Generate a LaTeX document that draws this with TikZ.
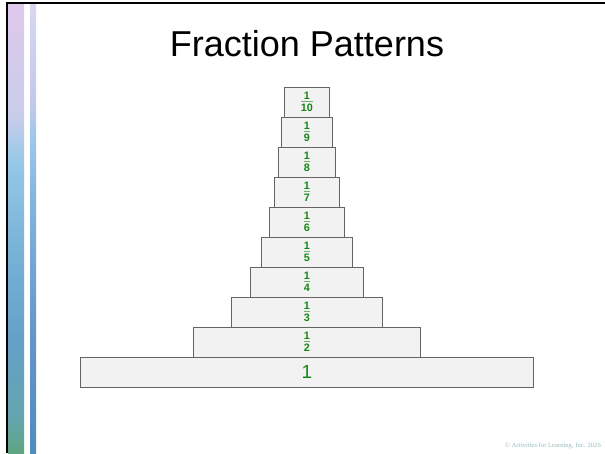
\documentclass[tikz,border=0pt]{standalone}
\usepackage{fontspec}
\setmainfont{Liberation Sans}
\newfontfamily\copyfont{Liberation Serif}
\definecolor{fgreen}{RGB}{20,135,20}
\definecolor{bargreen}{RGB}{110,175,110}
\definecolor{boxfill}{RGB}{242,242,242}
\definecolor{boxline}{RGB}{100,100,100}
\definecolor{copyc}{RGB}{150,185,185}
\definecolor{sa0}{RGB}{95,165,130}
\definecolor{sa1}{RGB}{100,165,175}
\definecolor{sa2}{RGB}{100,160,200}
\definecolor{sa3}{RGB}{120,178,215}
\definecolor{sa4}{RGB}{150,200,230}
\definecolor{sa5}{RGB}{200,205,235}
\definecolor{sa6}{RGB}{222,200,235}
\definecolor{sb0}{RGB}{80,140,190}
\definecolor{sb1}{RGB}{100,150,200}
\definecolor{sb2}{RGB}{130,180,225}
\definecolor{sb3}{RGB}{160,200,235}
\definecolor{sb4}{RGB}{195,200,235}
\definecolor{sb5}{RGB}{215,215,240}
% TikZ maps the band 25bp..75bp of a shading onto the path
\pgfdeclareverticalshading{stripA}{100bp}{color(0bp)=(sa0); color(25bp)=(sa0); color(29bp)=(sa1); color(37.5bp)=(sa2); color(47.5bp)=(sa3); color(57.5bp)=(sa4); color(62.5bp)=(sa5); color(75bp)=(sa6); color(100bp)=(sa6)}
\pgfdeclareverticalshading{stripB}{100bp}{color(0bp)=(sb0); color(25bp)=(sb0); color(38.5bp)=(sb1); color(53bp)=(sb2); color(60.5bp)=(sb3); color(64bp)=(sb4); color(75bp)=(sb5); color(100bp)=(sb5)}
\newcommand\unitfrac[1]{\vbox{\offinterlineskip\halign{\hfil##\hfil\cr\textbf{1}\cr\noalign{\kern1.5pt}{\color{bargreen}\leaders\hrule height 0.9pt\hfill}\cr\noalign{\kern2.2pt}\textbf{#1}\cr}}}
\tikzset{
  fracbox/.style={draw=boxline, line width=0.9pt, fill=boxfill, minimum height=30pt, inner sep=0pt, text=fgreen, font=\fontsize{10.8}{12}\selectfont},
}
\begin{document}
\begin{tikzpicture}[x=1pt,y=-1pt]
\useasboundingbox (0,0) rectangle (605,453);
% left decoration
\shade[shading=stripA] (7.5,4.5) rectangle (24,453);
\shade[shading=stripB] (30,4.5) rectangle (36,453);
\draw[line width=2pt] (6.5,453) -- (6.5,3) -- (605,3);
% title
\node[anchor=base, font=\fontsize{36}{40}\selectfont] (title) at (307,56) {Fraction Patterns};
% boxes
\node[fracbox, minimum width=453pt, font=\fontsize{19}{22}\selectfont] (f1) at (306.8,372) {1};
\foreach \n in {2,...,10}{
  \pgfmathsetmacro\w{453/\n}
  \pgfmathsetmacro\yc{402-30*\n}
  \node[fracbox, minimum width=\w pt] (f\n) at (306.8,\yc) {\unitfrac{\n}};
}
% copyright
\node[anchor=base east, text=copyc, font=\copyfont\fontsize{6.6}{8}\selectfont, inner sep=0pt] (copy) at (601,447) {© Activities for Learning, Inc. 2026};
\end{tikzpicture}
\end{document}
